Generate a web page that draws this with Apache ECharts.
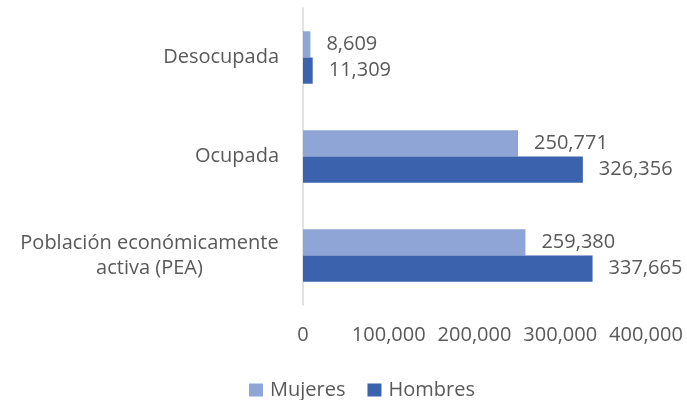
<!DOCTYPE html>
<html>
<head>
<meta charset="utf-8">
<script src="https://cdn.jsdelivr.net/npm/echarts@6/dist/echarts.min.js"></script>
<style>
  html, body { margin: 0; padding: 0; background: #fff; }
  #chart { width: 687px; height: 400px; }
</style>
</head>
<body>
<div id="chart"></div>
<script>
// categorias (de abajo hacia arriba)
var categorias = ['Población económicamente activa (PEA)', 'Ocupada', 'Desocupada']
var mujeres = [259380, 250771, 8609]
var hombres = [337665, 326356, 11309]
var xTicks = [0, 100000, 200000, 300000, 400000]

var FONT = 'Open Sans'
var FS = 20
var GRIS = '#595959'

var chart = echarts.init(document.getElementById('chart'))

var fmt = function (v) {
  return Number(v).toLocaleString('en-US')
}

// ancho de la primera linea para centrar la segunda
var ctx = document.createElement('canvas').getContext('2d')
ctx.font = FS + 'px "' + FONT + '"'
var anchoLinea = Math.ceil(ctx.measureText('Población económicamente').width)

var etiqueta = {
  show: true,
  position: 'right',
  distance: 16,
  fontSize: FS,
  color: GRIS,
  formatter: function (p) { return fmt(p.value) }
}

var options = {
  animation: false,
  textStyle: {
    fontFamily: FONT,
    color: GRIS
  },
  legend: {
    data: ['Mujeres', 'Hombres'],
    top: 375,
    left: 244,
    itemWidth: 14,
    itemHeight: 13,
    itemGap: 22,
    icon: 'rect',
    textStyle: { fontSize: FS, color: GRIS, fontFamily: FONT, padding: [0, 0, 0, 2] }
  },
  grid: {
    left: 303,
    right: 41,
    top: 8,
    bottom: 95
  },
  xAxis: {
    type: 'value',
    min: xTicks[0],
    max: xTicks[xTicks.length - 1],
    interval: 100000,
    splitLine: { show: false },
    axisLine: { show: false },
    axisTick: { show: false },
    axisLabel: {
      fontSize: FS,
      color: GRIS,
      margin: 20,
      formatter: fmt
    }
  },
  yAxis: {
    type: 'category',
    data: categorias,
    axisTick: { show: false },
    axisLine: { lineStyle: { color: '#d9d9d9', width: 1.5 } },
    axisLabel: {
      fontSize: FS,
      color: GRIS,
      margin: 24,
      align: 'right',
      lineHeight: 25,
      formatter: function (v) {
        if (v.indexOf('PEA') >= 0) {
          return '{c|Población económicamente}\n{c|activa (PEA)}'
        }
        return v
      },
      rich: {
        c: { width: anchoLinea, align: 'center', fontSize: FS, color: GRIS, lineHeight: 25 }
      }
    }
  },
  series: [{
    name: 'Mujeres',
    type: 'bar',
    data: mujeres,
    barGap: '0%',
    barCategoryGap: '47%',
    itemStyle: { color: '#8fa5d6' },
    label: etiqueta
  }, {
    name: 'Hombres',
    type: 'bar',
    data: hombres,
    barGap: '0%',
    barCategoryGap: '47%',
    itemStyle: { color: '#3b63ad' },
    label: etiqueta
  }]
}

chart.setOption(options)
</script>
</body>
</html>
